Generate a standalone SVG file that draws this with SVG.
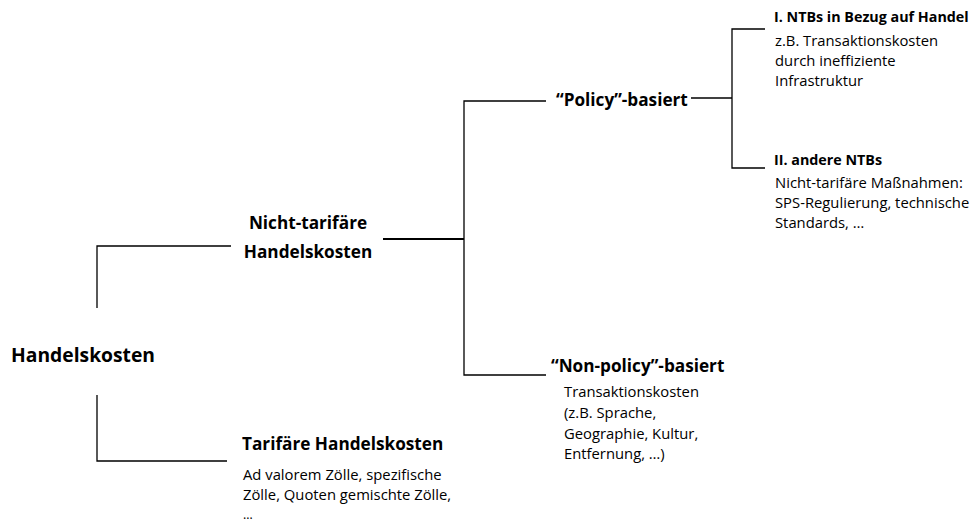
<svg xmlns="http://www.w3.org/2000/svg" width="973" height="522" viewBox="0 0 973 522">
<style>
text{font-family:"Open Sans","Noto Sans","Liberation Sans",sans-serif;fill:#000}
.h{font-weight:bold;font-size:17.2px}
.big{font-weight:bold;font-size:19.3px}
.s{font-size:14.8px}
.sb{font-weight:bold;font-size:14.3px}
.c{fill:none;stroke:#000;stroke-width:1.3}
.t{fill:none;stroke:#000;stroke-width:2}
</style>
<rect width="973" height="522" fill="#fff"/>
<g id="connectors">
<polyline class="c" points="97,308 97,246 231,246"/>
<polyline class="c" points="97,395 97,461 227,461"/>
<line class="t" x1="383" y1="239" x2="464" y2="239"/>
<polyline class="c" points="546,101 464,101 464,375 546,375"/>
<line class="c" x1="691" y1="98" x2="732" y2="98"/>
<polyline class="c" points="765,29 732,29 732,168 765,168"/>
</g>
<g id="handelskosten"><text class="big" x="11" y="362">Handelskosten</text></g>
<g id="nicht-tarifaere"><text class="h" x="308" y="229" text-anchor="middle">Nicht-tarifäre</text><text class="h" x="308" y="258" text-anchor="middle">Handelskosten</text></g>
<g id="tarifaere"><text class="h" x="242" y="450">Tarifäre Handelskosten</text>
<text class="s" x="243" y="480">Ad valorem Zölle, spezifische</text>
<text class="s" x="243" y="500">Zölle, Quoten gemischte Zölle,</text>
<text x="243" y="519" style="font-size:12.5px">…</text></g>
<g id="policy"><text class="h" x="556" y="106">“Policy”-basiert</text></g>
<g id="non-policy"><text class="h" x="551" y="372">“Non-policy”-basiert</text>
<text class="s" x="564" y="397">Transaktionskosten</text>
<text class="s" x="564" y="418">(z.B. Sprache,</text>
<text class="s" x="564" y="439">Geographie, Kultur,</text>
<text class="s" x="564" y="459">Entfernung, …)</text></g>
<g id="ntb1"><text class="sb" x="774" y="22">I. NTBs in Bezug auf Handel</text>
<text class="s" x="775" y="46">z.B. Transaktionskosten</text>
<text class="s" x="775" y="66">durch ineffiziente</text>
<text class="s" x="775" y="86">Infrastruktur</text></g>
<g id="ntb2"><text class="sb" x="774" y="165">II. andere NTBs</text>
<text class="s" x="775" y="188">Nicht-tarifäre Maßnahmen:</text>
<text class="s" x="775" y="208">SPS-Regulierung, technische</text>
<text class="s" x="775" y="228">Standards, …</text></g>
</svg>
